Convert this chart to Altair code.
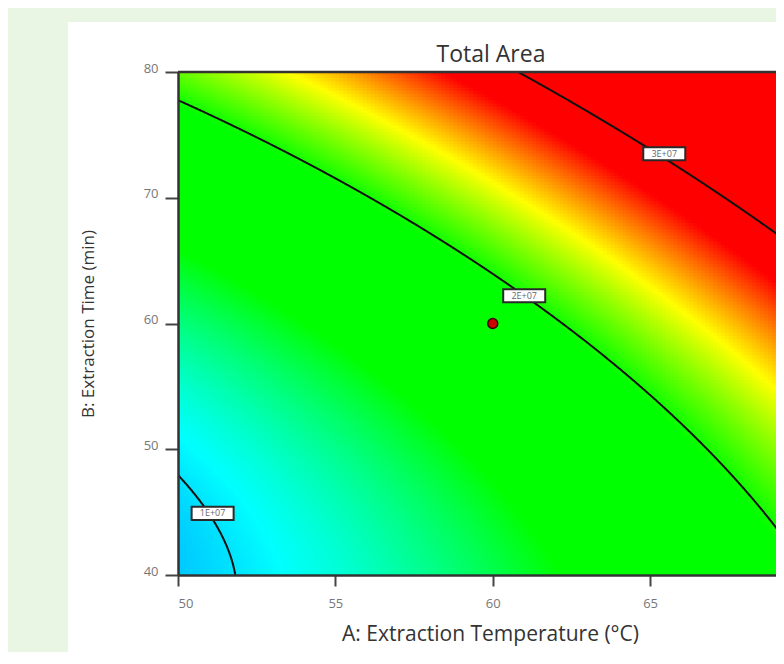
import numpy as np
import pandas as pd
import altair as alt

# ---- values ----
# quadratic response-surface model in coded units (a=(A-60)/10, b=(B-60)/20), Total Area in units of 1E+07
coef_values = [1.831, 0.731, 0.798, 0.211, 0.147, 0.294]   # intercept, A, B, AB, A^2, B^2
temp_domain = [50, 69.0]            # visible part of A: Extraction Temperature
time_domain = [40, 80]              # B: Extraction Time
x_ticks = [50, 55, 60, 65]
y_ticks = [40, 50, 60, 70, 80]
contour_levels = [1.0, 2.0, 3.0]
contour_param = ["B", "A", "A"]
contour_labels = ["1E+07", "2E+07", "3E+07"]
label_temp = [51.1, 61.0, 65.45]
label_time = [44.9, 62.2, 73.5]
design_temp = [60]
design_time = [60]
color_stops = [0.62, 1.045, 1.45, 1.97, 2.37, 2.78]
color_range = ["#0000ff", "#00ffff", "#00ff00", "#00ff00", "#ffff00", "#ff0000"]

c0, c1, c2, c3, c4, c5 = coef_values


def model(A, B):
    a = (A - 60) / 10
    b = (B - 60) / 20
    return c0 + c1 * a + c2 * b + c3 * a * b + c4 * a * a + c5 * b * b


# ---- surface grid ----
dA, dB = 0.125, 0.25
A0 = np.arange(50, 69.1, dA)
B0 = np.arange(40, 80, dB)
AA, BB = np.meshgrid(A0, B0)
grid = pd.DataFrame({
    "x0": AA.ravel().round(4),
    "x1": (AA.ravel() + dA * 1.3).round(4),
    "y0": BB.ravel().round(4),
    "y1": (BB.ravel() + dB * 1.3).round(4),
})
grid["v"] = model(grid["x0"] + dA / 2, grid["y0"] + dB / 2).round(4)

# ---- contour lines from the model ----
rows = []
for lev, how in zip(contour_levels, contour_param):
    if how == "A":
        for i, A in enumerate(np.linspace(49, 71, 1101)):
            a = (A - 60) / 10
            qb = c2 + c3 * a
            qc = c0 + c1 * a + c4 * a * a - lev
            D = qb * qb - 4 * c5 * qc
            if D < 0:
                continue
            b = (-qb + np.sqrt(D)) / (2 * c5)
            B = 60 + 20 * b
            if 37 <= B <= 83:
                rows.append({"level": lev, "idx": i, "A": A, "B": B})
    else:
        for i, B in enumerate(np.linspace(37, 83, 1101)):
            b = (B - 60) / 20
            qb = c1 + c3 * b
            qc = c0 + c2 * b + c5 * b * b - lev
            D = qb * qb - 4 * c4 * qc
            if D < 0:
                continue
            a = (-qb + np.sqrt(D)) / (2 * c4)
            A = 60 + 10 * a
            if 48 <= A <= 72:
                rows.append({"level": lev, "idx": i, "A": A, "B": B})
lines = pd.DataFrame(rows)

labels = pd.DataFrame({"A": label_temp, "B": label_time, "text": contour_labels})
design = pd.DataFrame({"A": design_temp, "B": design_time})

FONT = "Open Sans"

x_axis = alt.Axis(values=x_ticks, title="A: Extraction Temperature (°C)", grid=False, zindex=1,
                  labelFont=FONT, labelFontSize=13, labelColor="#777777", labelPadding=11,
                  tickSize=11, tickWidth=2, tickColor="#444444",
                  domainColor="#333333", domainWidth=2.5,
                  titleFont=FONT, titleFontSize=21, titleFontWeight="normal", titleColor="#333333",
                  titleX=312, titleY=59, titleBaseline="middle", titleAlign="center")
y_axis = alt.Axis(values=y_ticks, title="B: Extraction Time (min)", grid=False, zindex=1,
                  labelFont=FONT, labelFontSize=13, labelColor="#777777", labelPadding=7,
                  labelBaseline="alphabetic",
                  tickSize=13, tickWidth=2, tickColor="#444444",
                  domainColor="#333333", domainWidth=2.5,
                  titleFont=FONT, titleFontSize=17, titleFontWeight="normal", titleColor="#333333",
                  titleAngle=270, titleX=-90, titleY=251.5, titleBaseline="middle", titleAlign="center")

xs = alt.Scale(domain=temp_domain, nice=False, zero=False)
ys = alt.Scale(domain=time_domain, nice=False, zero=False)


def X(f):
    return alt.X(f, type="quantitative", scale=xs, axis=x_axis)


def Y(f):
    return alt.Y(f, type="quantitative", scale=ys, axis=y_axis)


panel = alt.Chart(pd.DataFrame({"k": [0]})).mark_rect(color="white", clip=False).encode(
    x=alt.value(-110), x2=alt.value(700), y=alt.value(-50), y2=alt.value(590))

surface = alt.Chart(grid).mark_rect(clip=True, strokeWidth=0).encode(
    x=X("x0"), x2="x1", y=Y("y0"), y2="y1",
    color=alt.Color("v:Q", legend=None,
                    scale=alt.Scale(domain=color_stops, range=color_range, clamp=True, interpolate="rgb")))

contours = alt.Chart(lines).mark_line(clip=True, color="#111111", strokeWidth=2).encode(
    x=X("A"), y=Y("B"), detail="level:N", order="idx:Q")

boxes = alt.Chart(labels).mark_point(
    shape="M-1,-0.31L1,-0.31L1,0.31L-1,0.31Z", size=1764, filled=True, fill="white",
    stroke="#2a2a2a", strokeWidth=2, opacity=1).encode(x=X("A"), y=Y("B"))

texts = alt.Chart(labels).mark_text(font=FONT, fontSize=9, color="#666666",
                                    align="center", baseline="middle").encode(
    x=X("A"), y=Y("B"), text="text:N")

dot = alt.Chart(design).mark_point(filled=True, fill="#cc0000", stroke="#3a0000", strokeWidth=1.5,
                                   size=100, opacity=1, shape="circle").encode(x=X("A"), y=Y("B"))

top_border = alt.Chart(pd.DataFrame({"k": [0]})).mark_rule(color="#333333", strokeWidth=2.5).encode(
    y=alt.datum(80, scale=ys))

title = alt.Chart(pd.DataFrame({"t": ["Total Area"]})).mark_text(
    font=FONT, fontSize=23, color="#333333", align="center", baseline="middle", clip=False).encode(
    x=alt.value(313), y=alt.value(-17), text="t:N")

chart = alt.layer(panel, surface, contours, boxes, texts, dot, top_border, title).properties(
    width=598, height=503, background="#e8f6e3",
    padding={"left": 170, "top": 64, "right": 0, "bottom": 77},
    autosize=alt.AutoSizeParams(type="none"),
).configure_view(stroke="transparent")

chart.save("out.html", embed_options={"renderer": "svg", "actions": False})
